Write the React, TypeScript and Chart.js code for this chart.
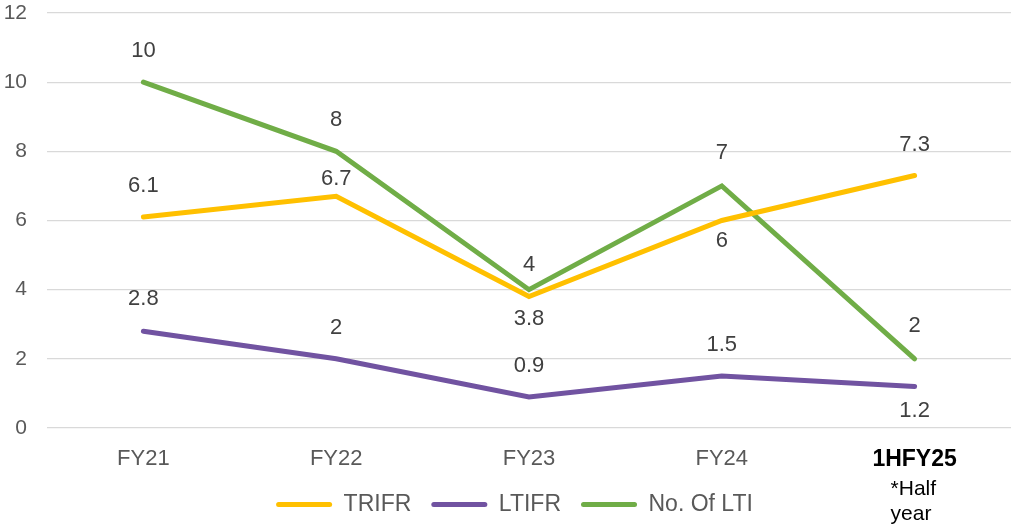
import React, { useEffect, useRef } from "react";
import { Chart, registerables } from "chart.js";

Chart.register(...registerables);

const categories = ["FY21", "FY22", "FY23", "FY24", "1HFY25"];
const trifr = [6.1, 6.7, 3.8, 6, 7.3];
const ltifr = [2.8, 2, 0.9, 1.5, 1.2];
const noOfLti = [10, 8, 4, 7, 2];
const yTicks = [0, 2, 4, 6, 8, 10, 12];
const lastCategoryNote = ["*Half", "year"];

// label offsets (px, negative = above the point)
const trifrLabelDy = [-31, -17, 22, 20, -31];
const ltifrLabelDy = [-32, -31, -31, -31, 24];
const ltiLabelDy = [-31, -31, -25, -33, -33];

const FONT = "'Liberation Sans', Arial, sans-serif";

const dataLabelPlugin = {
  id: "dataLabels",
  afterDatasetsDraw(chart: any) {
    const ctx = chart.ctx;
    ctx.save();
    ctx.font = `22px ${FONT}`;
    ctx.fillStyle = "#404040";
    ctx.textAlign = "center";
    ctx.textBaseline = "middle";
    chart.data.datasets.forEach((ds: any, di: number) => {
      const meta = chart.getDatasetMeta(di);
      meta.data.forEach((pt: any, i: number) => {
        const dy = ds.labelDy[i];
        ctx.fillText(String(ds.data[i]), pt.x, pt.y + dy);
      });
    });
    ctx.restore();
  },
};

const notePlugin = {
  id: "categoryNote",
  afterDraw(chart: any) {
    const ctx = chart.ctx;
    const xs = chart.scales.x;
    const idx = categories.length - 1;
    const x = xs.getPixelForTick(idx);
    ctx.save();
    ctx.font = `21px ${FONT}`;
    ctx.fillStyle = "#000000";
    ctx.textAlign = "left";
    ctx.textBaseline = "middle";
    const left = x - 24;
    lastCategoryNote.forEach((t, k) => {
      ctx.fillText(t, left, xs.top + 61 + k * 25);
    });
    ctx.restore();
  },
};

// let y-axis labels use the left padding strip without being clipped
const unclipYAxisPlugin = {
  id: "unclipYAxis",
  afterLayout(chart: any) {
    chart.scales.y.left = 0;
  },
};

export default function App() {
  const ref = useRef<HTMLCanvasElement>(null);
  useEffect(() => {
    document.body.style.margin = "0";
    const chart = new Chart(ref.current!, {
      type: "line",
      data: {
        labels: categories,
        datasets: [
          { label: "TRIFR", data: trifr, borderColor: "#FFC000", backgroundColor: "#FFC000", labelDy: trifrLabelDy } as any,
          { label: "LTIFR", data: ltifr, borderColor: "#7153A1", backgroundColor: "#7153A1", labelDy: ltifrLabelDy } as any,
          { label: "No. Of LTI", data: noOfLti, borderColor: "#70AD47", backgroundColor: "#70AD47", labelDy: ltiLabelDy } as any,
        ],
      },
      options: {
        responsive: false,
        animation: false,
        layout: { padding: { top: 13, right: 6, left: 18, bottom: 0 } },
        elements: {
          line: { borderWidth: 5, tension: 0, borderCapStyle: "round", borderJoinStyle: "miter" },
          point: { radius: 0, hoverRadius: 0 },
        },
        scales: {
          x: {
            offset: true,
            grid: { display: false },
            border: { display: false },
            ticks: {
              color: (c: any) => (c.index === 4 ? "#000000" : "#595959"),
              font: (c: any) => ({ family: FONT, size: c.index === 4 ? 23 : 22, weight: c.index === 4 ? "bold" : "normal" }),
              padding: 10,
              maxRotation: 0,
            },
            afterFit: (s: any) => {
              s.height = 45;
              s.paddingLeft = 0;
              s.paddingRight = 0;
            },
          },
          y: {
            min: 0,
            max: 12,
            afterBuildTicks: (s: any) => { s.ticks = yTicks.map((v) => ({ value: v })); },
            grid: { color: "#D9D9D9", lineWidth: 1.3, drawTicks: false },
            border: { display: false },
            ticks: { color: "#595959", font: { family: FONT, size: 21 }, padding: 20 },
            afterFit: (s: any) => {
              s.width = 29;
              s.paddingTop = 0;
              s.paddingBottom = 0;
            },
          },
        },
        plugins: {
          tooltip: { enabled: false },
          legend: {
            position: "bottom",
            labels: {
              color: "#595959",
              font: { family: FONT, size: 23 },
              boxWidth: 56,
              boxHeight: 5,
              padding: 20,
              generateLabels: (chart: any) =>
                chart.data.datasets.map((ds: any, i: number) => ({
                  text: ds.label,
                  fillStyle: ds.borderColor,
                  strokeStyle: ds.borderColor,
                  lineWidth: 0,
                  borderRadius: 2.5,
                  datasetIndex: i,
                  fontColor: "#595959",
                })),
            },
          },
        },
      },
      plugins: [dataLabelPlugin, notePlugin, unclipYAxisPlugin],
    });
    return () => chart.destroy();
  }, []);
  return <canvas ref={ref} width={1017} height={526} style={{ display: "block" }} />;
}
